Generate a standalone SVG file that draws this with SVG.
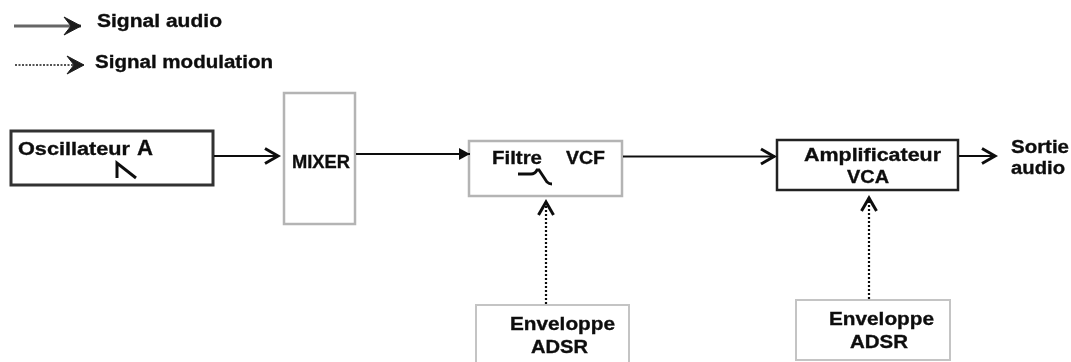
<svg xmlns="http://www.w3.org/2000/svg" width="1071" height="362" viewBox="0 0 1071 362">
<defs>
<filter id="soft" x="0" y="0" width="1071" height="362" filterUnits="userSpaceOnUse"><feGaussianBlur stdDeviation="0.45"/></filter>
<marker id="open" markerUnits="userSpaceOnUse" markerWidth="24" markerHeight="24" refX="19" refY="9" orient="auto" overflow="visible"><path d="M2 0L19 9L2 18L9 9Z" fill="#1c1c1c" stroke="#1c1c1c" stroke-width="1"/></marker>
<marker id="vee" markerUnits="userSpaceOnUse" markerWidth="22" markerHeight="22" refX="17" refY="9" orient="auto" overflow="visible"><path d="M3 1.500L16 9L3 16.500" fill="none" stroke="#111" stroke-width="3"/></marker>
<marker id="solid" markerUnits="userSpaceOnUse" markerWidth="22" markerHeight="22" refX="13" refY="7" orient="auto" overflow="visible"><path d="M2 1L13 7L2 13Z" fill="#111"/></marker>
</defs>
<style>
.t{font-family:"Liberation Sans",Arial,sans-serif;font-weight:700;fill:#111;stroke:#111;stroke-width:.35px;font-size:18px}
.dark{fill:#fff;stroke:#333;stroke-width:3}
.thin{fill:#fff;stroke:#222;stroke-width:2.500}
.light{fill:#fff;stroke:#b4b4b4;stroke-width:2.500}
.pale{fill:#fff;stroke:#c4c4c4;stroke-width:2}
.w{fill:none;stroke:#111;stroke-width:2.800}
.a{fill:none;stroke:#111;stroke-width:2.200}
.d{fill:none;stroke:#111;stroke-width:2.200;stroke-dasharray:2 2}
</style>
<g filter="url(#soft)">
<g id="legend">
<path d="M14 26H81" fill="none" stroke="#666" stroke-width="3" marker-end="url(#open)"/>
<text class="t" x="97" y="27" textLength="125" lengthAdjust="spacingAndGlyphs">Signal audio</text>
<path d="M15 65H84" fill="none" stroke="#1c1c1c" stroke-width="1.500" stroke-dasharray="2 1.500" marker-end="url(#open)"/>
<text class="t" x="95" y="68" textLength="178" lengthAdjust="spacingAndGlyphs">Signal modulation</text>
</g>
<g id="oscillateur">
<rect class="dark" x="11" y="131" width="202" height="54"/>
<text class="t" x="18" y="155" textLength="112" lengthAdjust="spacingAndGlyphs">Oscillateur</text>
<text class="t" x="137" y="155" textLength="16" lengthAdjust="spacingAndGlyphs" style="font-size:22px">A</text>
<path class="w" d="M117 178V163L136 178" style="stroke-width:3"/>
</g>
<g id="mixer">
<rect class="light" x="284" y="93" width="71" height="131"/>
<text class="t" x="292" y="168" textLength="58" lengthAdjust="spacingAndGlyphs">MIXER</text>
</g>
<g id="vcf">
<rect class="light" x="469" y="141" width="153" height="55"/>
<text class="t" x="492" y="164" textLength="50" lengthAdjust="spacingAndGlyphs">Filtre</text>
<text class="t" x="566" y="164" textLength="39" lengthAdjust="spacingAndGlyphs">VCF</text>
<path class="w" d="M518 174H531Q535 174 537 170L539 170L547 182Q549 184 552 184"/>
</g>
<g id="vca">
<rect class="thin" x="777" y="140" width="181" height="50"/>
<text class="t" x="804" y="161" textLength="137" lengthAdjust="spacingAndGlyphs">Amplificateur</text>
<text class="t" x="847" y="183" textLength="42" lengthAdjust="spacingAndGlyphs">VCA</text>
</g>
<g id="env1">
<rect class="pale" x="476" y="305" width="153" height="62"/>
<text class="t" x="510" y="330" textLength="105" lengthAdjust="spacingAndGlyphs">Enveloppe</text>
<text class="t" x="531" y="353" textLength="57" lengthAdjust="spacingAndGlyphs">ADSR</text>
</g>
<g id="env2">
<rect class="pale" x="796" y="300" width="154" height="60"/>
<text class="t" x="829" y="325" textLength="105" lengthAdjust="spacingAndGlyphs">Enveloppe</text>
<text class="t" x="850" y="348" textLength="58" lengthAdjust="spacingAndGlyphs">ADSR</text>
</g>
<g id="sortie">
<text class="t" x="1011" y="153" textLength="58" lengthAdjust="spacingAndGlyphs">Sortie</text>
<text class="t" x="1011" y="174" textLength="54" lengthAdjust="spacingAndGlyphs">audio</text>
</g>
<g id="connectors">
<path class="a" d="M214 156H279" marker-end="url(#vee)"/>
<path class="a" d="M356 154H470" marker-end="url(#solid)"/>
<path class="a" d="M623 156.500H775" marker-end="url(#vee)"/>
<path class="a" d="M959 156H996" marker-end="url(#vee)"/>
<path class="d" d="M546 304V201" marker-end="url(#vee)"/>
<path class="d" d="M869 299V197" marker-end="url(#vee)"/>
</g>
</g>
</svg>
